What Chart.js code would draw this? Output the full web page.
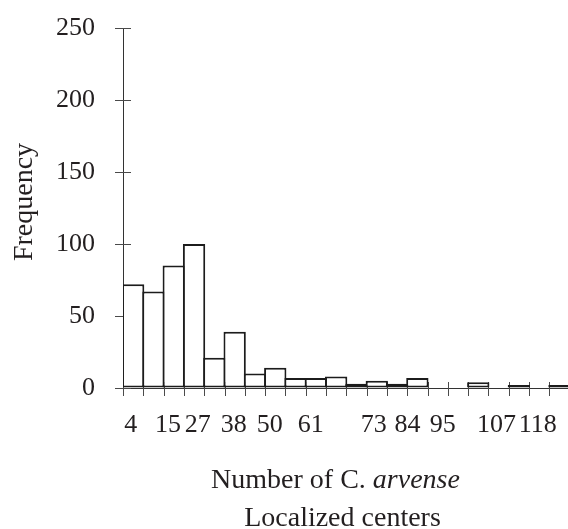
<!DOCTYPE html>
<html>
<head>
<meta charset="utf-8">
<script src="https://cdn.jsdelivr.net/npm/chart.js@4/dist/chart.umd.min.js"></script>
<style>
  html, body { margin: 0; padding: 0; background: #fff; }
  #wrap { width: 568px; height: 529px; position: relative; }
</style>
</head>
<body>
<div id="wrap"><canvas id="c"></canvas></div>
<script>
// Frequency of each bin (22 equal bins along the x axis)
const binCounts = [72, 67, 85, 100, 21, 39, 10, 14, 7, 7, 8, 3, 5, 3, 7, 0, 0, 4, 0, 2, 0, 2];
// Axis tick labels as printed, and where they sit along the axis (in bin units)
const tickLabels = ['4', '15', '27', '38', '50', '61', '73', '84', '95', '107', '118'];
const tickPositions = [0.38, 2.22, 3.68, 5.45, 7.23, 9.25, 12.35, 14.02, 15.75, 18.4, 20.43];
const yTickValues = [0, 50, 100, 150, 200, 250];
const yTitle = 'Frequency';
const xTitleLine1 = ['Number of C. ', 'arvense'];
const xTitleLine2 = 'Localized centers';

const INK = '#231f20';
const FONT = 'Liberation Serif';

const points = binCounts.map((v, i) => ({ x: i + 0.5, y: v }));

const tickMarks = {
  id: 'tickMarks',
  beforeDatasetsDraw(chart) {
    const { ctx, scales: { x, y } } = chart;
    ctx.save();
    ctx.strokeStyle = '#4a4a4a';
    ctx.lineWidth = 1;
    const y0 = y.getPixelForValue(0);
    for (let i = 0; i <= binCounts.length; i++) {
      const px = Math.round(x.getPixelForValue(i)) + 0.5;
      if (px > chart.width) continue;
      ctx.beginPath();
      ctx.moveTo(px, y0 - 6);
      ctx.lineTo(px, y0 + 8);
      ctx.stroke();
    }
    const x0 = x.getPixelForValue(0);
    yTickValues.forEach(v => {
      const py = Math.round(y.getPixelForValue(v)) + 0.5;
      ctx.beginPath();
      ctx.moveTo(x0 - 8, py);
      ctx.lineTo(x0 + 8, py);
      ctx.stroke();
    });
    ctx.restore();
  }
};

const titles = {
  id: 'titles',
  afterDraw(chart) {
    const { ctx, chartArea } = chart;
    ctx.save();
    ctx.fillStyle = INK;
    ctx.textBaseline = 'alphabetic';
    // y title
    ctx.font = `28px "${FONT}"`;
    ctx.save();
    ctx.translate(31.5, 202);
    ctx.rotate(-Math.PI / 2);
    ctx.textAlign = 'center';
    ctx.fillText(yTitle, 0, 0);
    ctx.restore();
    // x title line 1 (mixed italic)
    const cx = (chartArea.left + chartArea.right) / 2;
    ctx.textAlign = 'left';
    ctx.font = `28px "${FONT}"`;
    const w1 = ctx.measureText(xTitleLine1[0]).width;
    ctx.font = `italic 28px "${FONT}"`;
    const w2 = ctx.measureText(xTitleLine1[1]).width;
    const start = cx - 10 - (w1 + w2) / 2;
    ctx.font = `28px "${FONT}"`;
    ctx.fillText(xTitleLine1[0], start, chartArea.bottom + 100);
    ctx.font = `italic 28px "${FONT}"`;
    ctx.fillText(xTitleLine1[1], start + w1, chartArea.bottom + 100);
    // x title line 2
    ctx.font = `28px "${FONT}"`;
    ctx.textAlign = 'center';
    ctx.fillText(xTitleLine2, cx - 3, chartArea.bottom + 138);
    ctx.restore();
  }
};

new Chart(document.getElementById('c'), {
  type: 'bar',
  data: {
    datasets: [{
      data: points,
      backgroundColor: '#ffffff',
      borderColor: '#1c1c1c',
      borderWidth: 2,
      borderSkipped: false,
      barPercentage: 1.1,
      categoryPercentage: 1
    }]
  },
  options: {
    responsive: true,
    maintainAspectRatio: false,
    animation: false,
    devicePixelRatio: 1,
    layout: { padding: { top: 28, right: 0, bottom: 0, left: 0 } },
    plugins: { legend: { display: false }, tooltip: { enabled: false } },
    scales: {
      x: {
        type: 'linear',
        offset: false,
        min: 0,
        max: 21.92,
        grid: { display: true, drawOnChartArea: false, drawTicks: true, tickLength: 22, color: 'rgba(0,0,0,0)', offset: false },
        border: { display: true, color: '#333333', width: 1 },
        afterBuildTicks: s => { s.ticks = tickPositions.map(v => ({ value: v })); },
        afterFit: s => { s.height = 141; },
        ticks: {
          autoSkip: false,
          maxRotation: 0,
          minRotation: 0,
          padding: 0,
          color: INK,
          font: { family: FONT, size: 26 },
          callback: (v, i) => tickLabels[i]
        }
      },
      y: {
        min: 0,
        max: 250,
        grid: { display: true, drawOnChartArea: false, drawTicks: true, tickLength: 28, color: 'rgba(0,0,0,0)' },
        border: { display: true, color: '#333333', width: 1 },
        afterBuildTicks: s => { s.ticks = yTickValues.map(v => ({ value: v })); },
        afterFit: s => { s.width = 123; },
        ticks: {
          padding: 0,
          color: INK,
          font: { family: FONT, size: 26 }
        }
      }
    }
  },
  plugins: [tickMarks, titles]
});
</script>
</body>
</html>
